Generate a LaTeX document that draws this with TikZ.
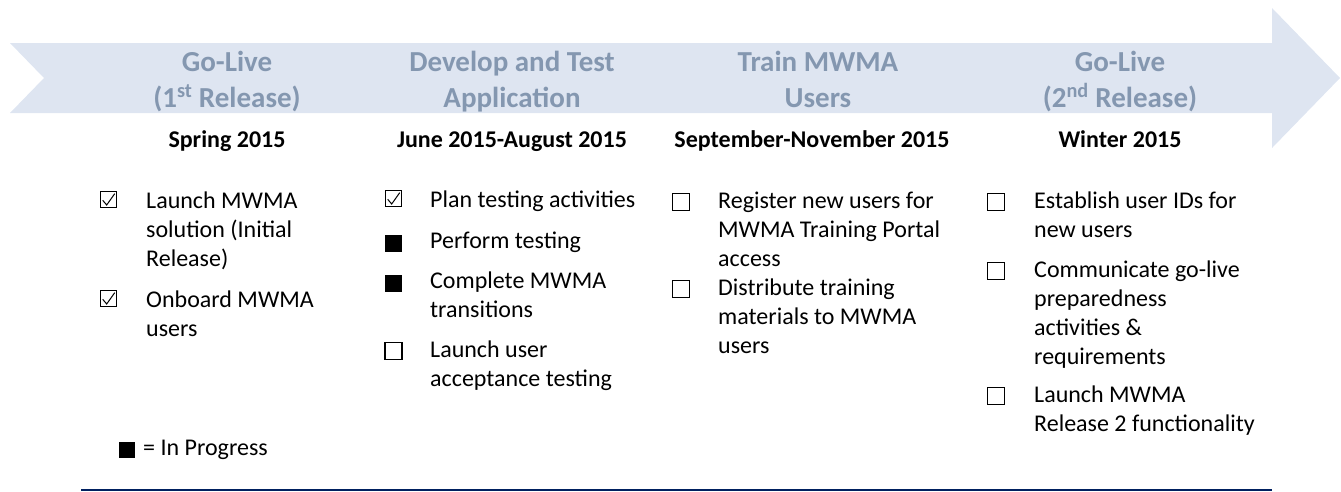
\documentclass[tikz,border=0pt]{standalone}
\usepackage{fontspec}
\setmainfont{Carlito}
\usepackage{tikz}
\definecolor{bandfill}{RGB}{222,229,241}
\definecolor{headblue}{RGB}{132,151,176}
\definecolor{rulenavy}{RGB}{0,32,96}
\tikzstyle{phase}=[font=\bfseries\fontsize{29}{36}\selectfont,text=headblue,align=center,anchor=base,inner sep=0pt]
\tikzstyle{when}=[font=\bfseries\fontsize{24}{29}\selectfont,anchor=base,inner sep=0pt]
\tikzstyle{task}=[font=\fontsize{24}{29.3}\selectfont,align=left,anchor=base west,inner sep=0pt]
\tikzstyle{boxopen}=[draw,line width=1.7pt,minimum size=17pt,inner sep=0pt]
\tikzstyle{boxfull}=[fill=black,minimum size=17pt,inner sep=0pt,yshift=-1.5pt]
\tikzstyle{boxdone}=[draw,line width=0.9pt,minimum size=16.5pt,inner sep=0pt,yshift=2.5pt,
    path picture={\draw[line width=1pt] ([shift={(-5.8,0.8)}]path picture bounding box.center)
        -- ([shift={(-1.8,5.5)}]path picture bounding box.center)
        -- ([shift={(6.2,-5.8)}]path picture bounding box.center);}]
\tikzstyle{rule} = [draw,line width=2pt,rulenavy]

\begin{document}
\begin{tikzpicture}[x=1pt,y=-1pt]
    \useasboundingbox (0,0) rectangle (1341,491);
    % The timeline band with its notched tail and arrow head
    \fill[bandfill] (10,43) -- (1272,43) -- (1272,8) -- (1340,78) -- (1272,148)
        -- (1272,113) -- (10,113) -- (44,78) -- cycle;

    % Phase titles (placed on their second line) and dates
    \foreach \pos/\name/\txt in {{(227,107)/golive1/{Go-Live\\(1\textsuperscript{st} Release)}},
        {(512,107)/devtest/{Develop and Test\\Application}}, {(818,107)/train/{Train MWMA\\Users}},
        {(1120,107)/golive2/{Go-Live\\(2\textsuperscript{nd} Release)}}}
        \node[phase] (\name) at \pos {\txt};
    \foreach \pos/\name/\txt in {{(227,147)/spring/Spring 2015}, {(512,147)/summer/June 2015-August 2015},
        {(812,147)/autumn/September-November 2015}, {(1120,147)/winter/Winter 2015}}
        \node[when] (\name) at \pos {\txt};

    % Then the tasks, each with its status box
    % \y is the first baseline, \n the number of lines below it
    \foreach \bx/\tx/\y/\n/\kind/\name/\txt in {
        108.5/146/208/2/boxdone/launch/{Launch MWMA\\solution (Initial\\Release)},
        108.5/146/307/1/boxdone/onboard/{Onboard MWMA\\users},
        393.5/430/207/0/boxdone/plan/{Plan testing activities},
        393.5/430/248/0/boxfull/perform/{Perform testing},
        393.5/430/288/1/boxfull/complete/{Complete MWMA\\transitions},
        393.5/430/357/1/boxopen/uat/{Launch user\\acceptance testing},
        681/718/208/2/boxopen/register/{Register new users for\\MWMA Training Portal\\access},
        681/718/295/2/boxopen/distribute/{Distribute training\\materials to MWMA\\users},
        996/1034/208/1/boxopen/userids/{Establish user IDs for\\new users},
        996/1034/277/3/boxopen/communicate/{Communicate go-live\\preparedness\\activities \&\\requirements},
        996/1034/402/1/boxopen/release/{Launch MWMA\\Release 2 functionality}}
    {
        \node[\kind] (\name box) at (\bx,\y-6) {};
        \node[task] (\name) at (\tx,\y+29.3*\n) {\txt};
    }

    % Legend
    \node[boxfull,minimum size=16pt] (keybox) at (127,448) {};
    \node[task] (key) at (143,455) {= In Progress};

    % Rule along the bottom
    \coordinate (ruleL) at (81,489.5);
    \coordinate (ruleR) at (1272,489.5);
    \path[rule] (ruleL) -- (ruleR);
\end{tikzpicture}
\end{document}
